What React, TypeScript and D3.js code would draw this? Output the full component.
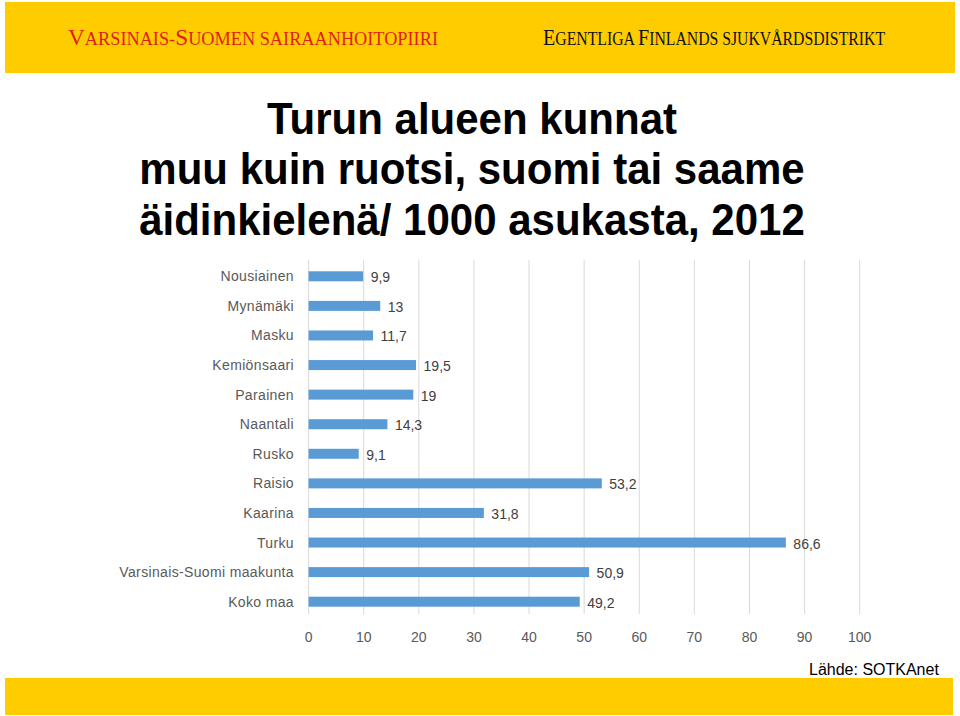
import React from "react";
import * as d3 from "d3";

const categories = [
  "Nousiainen",
  "Mynämäki",
  "Masku",
  "Kemiönsaari",
  "Parainen",
  "Naantali",
  "Rusko",
  "Raisio",
  "Kaarina",
  "Turku",
  "Varsinais-Suomi maakunta",
  "Koko maa",
];
const values = [9.9, 13, 11.7, 19.5, 19, 14.3, 9.1, 53.2, 31.8, 86.6, 50.9, 49.2];
const ticks = [0, 10, 20, 30, 40, 50, 60, 70, 80, 90, 100];
const titleLines = ["Turun alueen kunnat", "muu kuin ruotsi, suomi tai saame", "äidinkielenä/ 1000 asukasta, 2012"];

const fmt = (v: number) => String(v).replace(".", ",");

function SmallCaps({ text, x, y, fill, big, small, width }: any) {
  const parts: { t: string; big: boolean }[] = [];
  for (let i = 0; i < text.length; i++) {
    const ch = text[i];
    const isUpper = ch !== ch.toLowerCase() && ch === ch.toUpperCase();
    parts.push({ t: ch.toUpperCase(), big: isUpper });
  }
  return (
    <text x={x} y={y} fill={fill} fontFamily="'Liberation Serif', 'DejaVu Serif', serif" textLength={width} lengthAdjust="spacingAndGlyphs">
      {parts.map((p, i) => (
        <tspan key={i} fontSize={p.big ? big : small}>{p.t}</tspan>
      ))}
    </text>
  );
}

export default function App() {
  const W = 960;
  const H = 716;
  const x = d3.scaleLinear().domain([0, 100]).range([308.6, 859.7]);
  const y = d3.scalePoint<string>().domain(categories).range([276.3, 601.7]);
  const barH = 10;
  const font = "'Liberation Sans', Arial, sans-serif";

  return (
    <svg width={W} height={H} style={{ position: "absolute", left: 0, top: 0, background: "#fff" }}>
      <rect x={0} y={0} width={W} height={H} fill="#fff" />
      {/* header */}
      <rect x={5} y={2} width={950} height={71} fill="#ffcc00" />
      <SmallCaps text="Varsinais-Suomen sairaanhoitopiiri" x={68} y={44.5} fill="#dd1f1a" big={23} small={18} width={370} />
      <SmallCaps text="Egentliga Finlands sjukvårdsdistrikt" x={543} y={44.5} fill="#111" big={23} small={18} width={342} />

      {/* title */}
      <g transform="translate(472,0) scale(0.955,1)">
        {titleLines.map((t, i) => (
          <text key={i} x={0} y={134 + i * 50.5} textAnchor="middle" fontFamily={font} fontWeight="bold" fontSize={44} fill="#000">
            {t}
          </text>
        ))}
      </g>

      {/* gridlines */}
      {ticks.map((t) => (
        <line key={t} x1={x(t)} x2={x(t)} y1={260} y2={614} stroke="#d9d9d9" strokeWidth={1} />
      ))}

      {/* bars */}
      {categories.map((c, i) => (
        <g key={c}>
          <rect x={x(0)} y={(y(c) as number) - barH / 2} width={x(values[i]) - x(0)} height={barH} fill="#5b9bd5" />
          <text x={x(values[i]) + 7.5} y={(y(c) as number) + 6} fontFamily={font} fontSize={14} fill="#404040">
            {fmt(values[i])}
          </text>
          <text x={294} y={(y(c) as number) + 5} textAnchor="end" fontFamily={font} fontSize={14} letterSpacing={0.35} fill="#595959">
            {c}
          </text>
        </g>
      ))}

      {/* tick labels */}
      {ticks.map((t) => (
        <text key={t} x={x(t)} y={642} textAnchor="middle" fontFamily={font} fontSize={14} fill="#595959">
          {t}
        </text>
      ))}

      <text x={809} y={675} fontFamily={font} fontSize={16} fill="#000">Lähde: SOTKAnet</text>
      <rect x={5} y={678} width={948} height={37} fill="#ffcc00" />
    </svg>
  );
}
